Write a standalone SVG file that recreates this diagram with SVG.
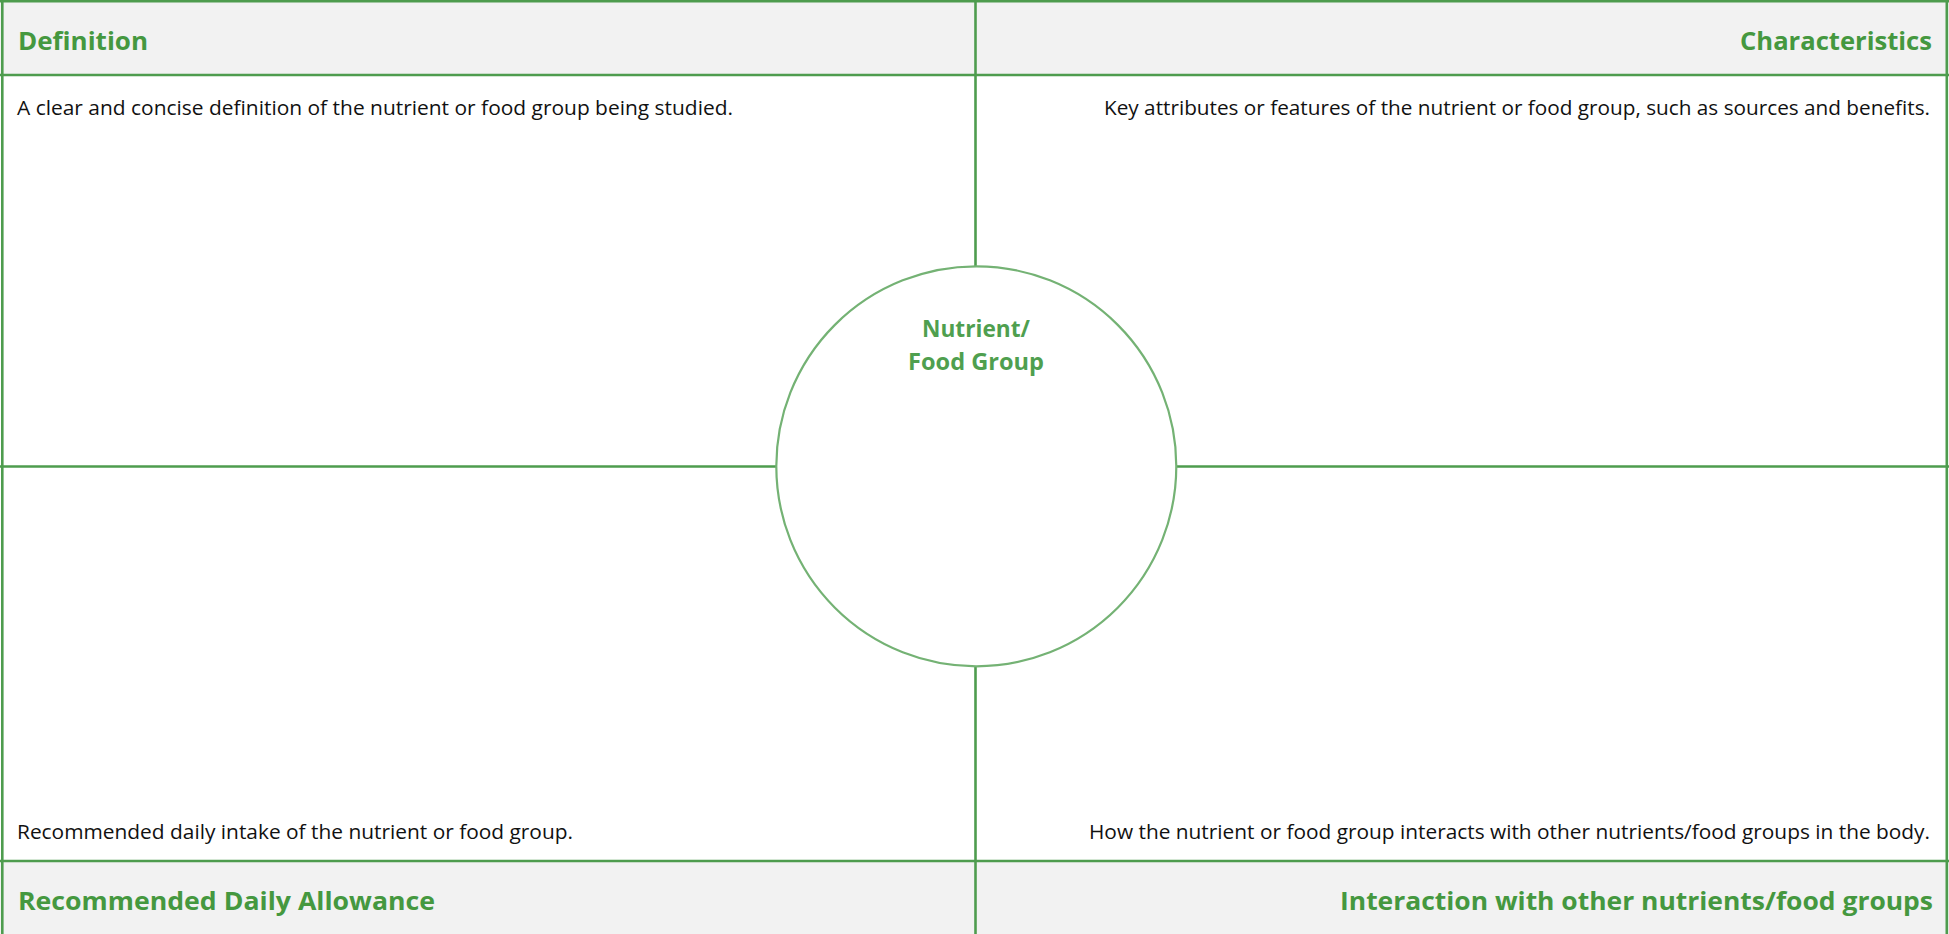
<svg xmlns="http://www.w3.org/2000/svg" width="1949" height="934" viewBox="0 0 1949 934">
<style>
.hdr{fill:#f2f2f2}
.grid{stroke:#4e9c4e;stroke-width:2.6;fill:none}
.ttl{font-family:"Open Sans","Liberation Sans",sans-serif;font-weight:bold;font-size:25px;fill:#45983f}
.body{font-family:"Open Sans","Liberation Sans",sans-serif;font-size:20.5px;fill:#111}
.ctr{font-family:"Open Sans","Liberation Sans",sans-serif;font-weight:bold;font-size:23px;fill:#4f9f4f}
</style>
<rect width="1949" height="934" fill="#ffffff"/>
<rect class="hdr" x="0" y="0" width="1949" height="75"/>
<rect class="hdr" x="0" y="861" width="1949" height="73"/>
<g id="connectors">
<line class="grid" x1="0" y1="1.3" x2="1949" y2="1.3"/>
<line class="grid" x1="2.3" y1="0" x2="2.3" y2="934"/>
<line class="grid" x1="1946.8" y1="0" x2="1946.8" y2="934"/>
<line class="grid" x1="0" y1="75" x2="1949" y2="75"/>
<line class="grid" x1="0" y1="861" x2="1949" y2="861"/>
<line class="grid" x1="975.5" y1="0" x2="975.5" y2="934"/>
<line class="grid" x1="0" y1="466.5" x2="1949" y2="466.5"/>
</g>
<g id="definition">
<text class="ttl" x="18" y="50" textLength="130" lengthAdjust="spacingAndGlyphs">Definition</text>
<text class="body" x="17" y="115" textLength="716" lengthAdjust="spacingAndGlyphs">A clear and concise definition of the nutrient or food group being studied.</text>
</g>
<g id="characteristics">
<text class="ttl" x="1932" y="50" text-anchor="end" textLength="192" lengthAdjust="spacingAndGlyphs">Characteristics</text>
<text class="body" x="1930" y="115" text-anchor="end" textLength="826" lengthAdjust="spacingAndGlyphs">Key attributes or features of the nutrient or food group, such as sources and benefits.</text>
</g>
<g id="rda">
<text class="body" x="17" y="839" textLength="556" lengthAdjust="spacingAndGlyphs">Recommended daily intake of the nutrient or food group.</text>
<text class="ttl" x="18" y="910" textLength="417" lengthAdjust="spacingAndGlyphs">Recommended Daily Allowance</text>
</g>
<g id="interaction">
<text class="body" x="1930" y="839" text-anchor="end" textLength="841" lengthAdjust="spacingAndGlyphs">How the nutrient or food group interacts with other nutrients/food groups in the body.</text>
<text class="ttl" x="1933" y="910" text-anchor="end" textLength="593" lengthAdjust="spacingAndGlyphs">Interaction with other nutrients/food groups</text>
</g>
<g id="center">
<circle cx="976.3" cy="466.3" r="200" fill="#ffffff" stroke="#74b274" stroke-width="2.2"/>
<text class="ctr" x="976" y="337" text-anchor="middle" textLength="108" lengthAdjust="spacingAndGlyphs">Nutrient/</text>
<text class="ctr" x="976" y="370" text-anchor="middle" textLength="136" lengthAdjust="spacingAndGlyphs">Food Group</text>
</g>
</svg>
